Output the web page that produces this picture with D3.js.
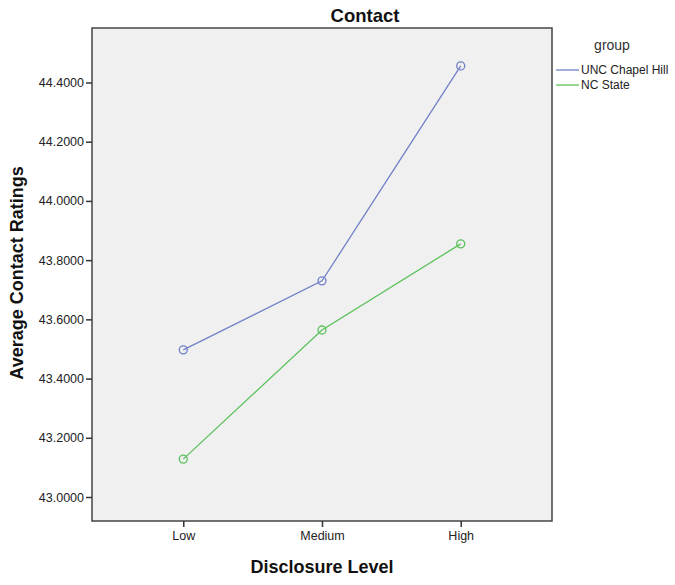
<!DOCTYPE html>
<html>
<head>
<meta charset="utf-8">
<script src="https://cdn.jsdelivr.net/npm/d3@7"></script>
<style>
  body { margin: 0; background: #fff; }
  text { font-family: "Liberation Sans", Arial, sans-serif; }
</style>
</head>
<body>
<div id="chart"></div>
<script>
// Values
const levels = ["Low", "Medium", "High"];
const uncValues = [43.497, 43.730, 44.456];
const ncsValues = [43.128, 43.564, 43.855];
const yTicks = [43.0, 43.2, 43.4, 43.6, 43.8, 44.0, 44.2, 44.4];
const groupNames = ["UNC Chapel Hill", "NC State"];
const groupColors = ["#7180c8", "#5cc15c"];

const width = 675, height = 585;
const plot = { left: 92, top: 28, right: 552, bottom: 521 };

const svg = d3.select("#chart").append("svg")
    .attr("width", width)
    .attr("height", height);

const x = d3.scalePoint()
    .domain(levels)
    .range([plot.left, plot.right])
    .padding(0.658);

const y = d3.scaleLinear()
    .domain([42.919, 44.584])
    .range([plot.bottom, plot.top]);

// plot background
svg.append("rect")
    .attr("x", plot.left)
    .attr("y", plot.top)
    .attr("width", plot.right - plot.left)
    .attr("height", plot.bottom - plot.top)
    .attr("fill", "#f0f0f0")
    .attr("stroke", "#444")
    .attr("stroke-width", 1.5);

// axes
const yAxis = svg.append("g")
    .attr("transform", `translate(${plot.left},0)`)
    .call(d3.axisLeft(y).tickValues(yTicks).tickFormat(d3.format(".4f")).tickSize(6).tickPadding(2));
const xAxis = svg.append("g")
    .attr("transform", `translate(0,${plot.bottom})`)
    .call(d3.axisBottom(x).tickSize(6).tickPadding(4));

[yAxis, xAxis].forEach(ax => {
    ax.select(".domain").remove();
    ax.selectAll(".tick line").attr("stroke", "#333").attr("stroke-width", 1.5);
    ax.selectAll(".tick text")
        .attr("fill", "#222")
        .style("font-size", "12.5px")
        .style("font-family", "'Liberation Sans', Arial, sans-serif");
});

// series
const series = [uncValues, ncsValues];
const line = d3.line().x((d, i) => x(levels[i])).y(d => y(d));

series.forEach((vals, s) => {
    svg.append("path")
        .datum(vals)
        .attr("d", line)
        .attr("fill", "none")
        .attr("stroke", groupColors[s])
        .attr("stroke-width", 1.3);
    svg.selectAll(null)
        .data(vals)
        .enter().append("circle")
        .attr("cx", (d, i) => x(levels[i]))
        .attr("cy", d => y(d))
        .attr("r", 4)
        .attr("fill", "none")
        .attr("stroke", groupColors[s])
        .attr("stroke-width", 1.3);
});

// titles
svg.append("text")
    .attr("x", 365).attr("y", 22)
    .attr("text-anchor", "middle")
    .style("font-size", "18.5px").style("font-weight", "bold")
    .attr("fill", "#111")
    .text("Contact");

svg.append("text")
    .attr("transform", "translate(23,273) rotate(-90)")
    .attr("text-anchor", "middle")
    .style("font-size", "18px").style("font-weight", "bold")
    .attr("fill", "#111")
    .text("Average Contact Ratings");

svg.append("text")
    .attr("x", 322).attr("y", 573)
    .attr("text-anchor", "middle")
    .style("font-size", "18px").style("font-weight", "bold")
    .attr("fill", "#111")
    .text("Disclosure Level");

// legend
svg.append("text")
    .attr("x", 612).attr("y", 50)
    .attr("text-anchor", "middle")
    .style("font-size", "14px")
    .attr("fill", "#333")
    .text("group");

groupNames.forEach((name, i) => {
    const ly = 70 + i * 15;
    svg.append("line")
        .attr("x1", 556).attr("x2", 579)
        .attr("y1", ly).attr("y2", ly)
        .attr("stroke", groupColors[i])
        .attr("stroke-width", 1.3);
    svg.append("text")
        .attr("x", 581).attr("y", ly + 4)
        .style("font-size", "12px")
        .attr("fill", "#222")
        .text(name);
});
</script>
</body>
</html>
